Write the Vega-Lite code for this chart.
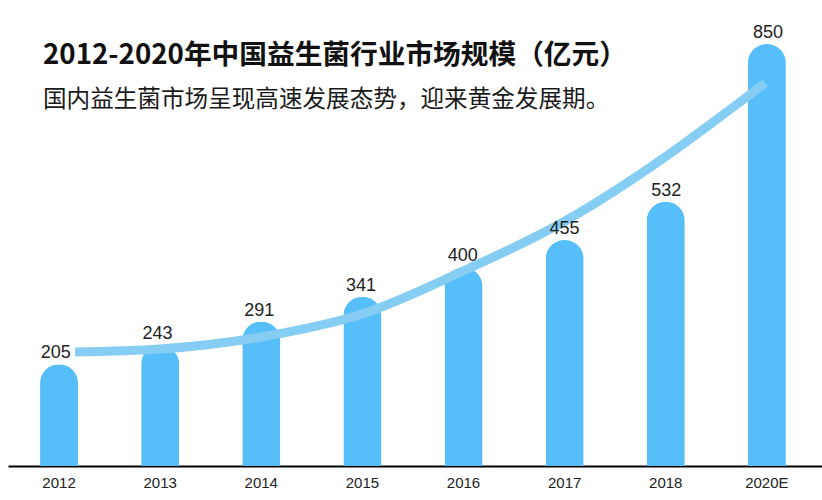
{
  "$schema": "https://vega.github.io/schema/vega-lite/v6.json",
  "width": 814,
  "height": 466,
  "autosize": {"type": "none"},
  "padding": {"left": 8, "top": 0, "right": 0, "bottom": 34},
  "background": "white",
  "title": {
    "text": "2012-2020年中国益生菌行业市场规模（亿元）",
    "subtitle": "国内益生菌市场呈现高速发展态势，迎来黄金发展期。",
    "anchor": "start",
    "frame": "group",
    "orient": "top",
    "offset": -112,
    "dx": 35,
    "font": "Noto Sans CJK SC",
    "fontSize": 27.7,
    "fontWeight": "bold",
    "color": "#111111",
    "subtitleFont": "Noto Sans CJK SC",
    "subtitleFontSize": 23.6,
    "subtitleFontWeight": "normal",
    "subtitleColor": "#1a1a1a",
    "subtitlePadding": 19
  },
  "datasets": {
    "bars": [
      {"year": "2012", "value": 205},
      {"year": "2013", "value": 243},
      {"year": "2014", "value": 291},
      {"year": "2015", "value": 341},
      {"year": "2016", "value": 400},
      {"year": "2017", "value": 455},
      {"year": "2018", "value": 532},
      {"year": "2020E", "value": 850}
    ],
    "curve": [
      {"pos": 0.158, "v": 229.6},
      {"pos": 0.999, "v": 235.6},
      {"pos": 1.998, "v": 259.8},
      {"pos": 2.997, "v": 306.1},
      {"pos": 3.996, "v": 392.7},
      {"pos": 5.005, "v": 493.5},
      {"pos": 5.994, "v": 622.4},
      {"pos": 6.469, "v": 692.8},
      {"pos": 6.983, "v": 771.4}
    ]
  },
  "layer": [
    {
      "data": {"name": "bars"},
      "mark": {"type": "bar", "color": "#56BEF8", "cornerRadiusTopLeft": 19, "cornerRadiusTopRight": 19},
      "encoding": {
        "x": {
          "field": "year", "type": "ordinal", "sort": null,
          "scale": {"paddingInner": 0.624, "paddingOuter": 0.337, "align": 0.47},
          "axis": {
            "title": null, "ticks": false, "domain": true, "domainColor": "#000000", "domainWidth": 2,
            "labelAngle": 0, "labelFont": "Liberation Sans", "labelFontSize": 15, "labelColor": "#222222",
            "labelPadding": 9, "grid": false
          }
        },
        "y": {
          "field": "value", "type": "quantitative",
          "scale": {"domain": [0, 938.6], "nice": false, "zero": true},
          "axis": null
        }
      }
    },
    {
      "data": {"name": "curve"},
      "mark": {"type": "line", "color": "#86CDF3", "strokeWidth": 9, "interpolate": "monotone", "strokeCap": "butt"},
      "encoding": {
        "x": {
          "field": "pos", "type": "quantitative",
          "scale": {"domain": [-0.5044, 7.5454], "nice": false, "zero": false},
          "axis": null
        },
        "y": {"field": "v", "type": "quantitative"}
      }
    },
    {
      "data": {"name": "bars"},
      "mark": {"type": "text", "font": "Liberation Sans", "fontSize": 18, "color": "#222222", "baseline": "alphabetic", "dy": -6},
      "encoding": {
        "x": {
          "field": "year", "type": "ordinal", "sort": null,
          "scale": {"paddingInner": 0.624, "paddingOuter": 0.337, "align": 0.47},
          "axis": null
        },
        "y": {"field": "value", "type": "quantitative"},
        "text": {"field": "value", "type": "quantitative"}
      }
    }
  ],
  "resolve": {"scale": {"x": "independent"}},
  "config": {"view": {"stroke": null}}
}
